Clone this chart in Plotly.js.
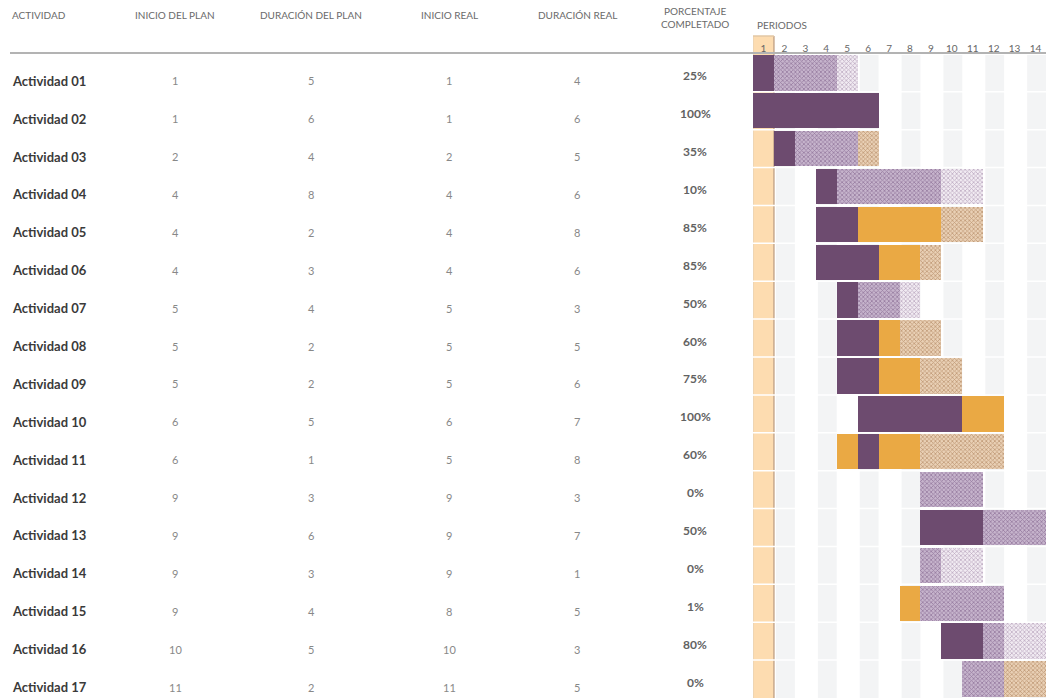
<!DOCTYPE html>
<html>
<head>
<meta charset="utf-8">
<script src="https://cdn.plot.ly/plotly-3.0.1.min.js"></script>
<style>
html,body{margin:0;padding:0;background:#fff;}
#chart{width:1053px;height:698px;}
</style>
</head>
<body>
<div id="chart"></div>
<script>
// ---------- DATA ----------
const activities = ['Actividad 01','Actividad 02','Actividad 03','Actividad 04','Actividad 05','Actividad 06','Actividad 07','Actividad 08','Actividad 09','Actividad 10','Actividad 11','Actividad 12','Actividad 13','Actividad 14','Actividad 15','Actividad 16','Actividad 17'];
const planStart   = [1,1,2,4,4,4,5,5,5,6,6,9,9,9,9,10,11];
const planDur     = [5,6,4,8,2,3,4,2,2,5,1,3,6,3,4,5,2];
const actualStart = [1,1,2,4,4,4,5,5,5,6,5,9,9,9,8,10,11];
const actualDur   = [4,6,5,6,8,6,3,5,6,7,8,3,7,1,5,3,5];
const pctComplete = [25,100,35,10,85,85,50,60,75,100,60,0,50,0,1,80,0];
const periods     = [1,2,3,4,5,6,7,8,9,10,11,12,13,14];
const currentPeriod = 1;
const columnHeaders = ['ACTIVIDAD','INICIO DEL PLAN','DURACIÓN DEL PLAN','INICIO REAL','DURACIÓN REAL','PORCENTAJE<br>COMPLETADO'];
const periodsTitle = 'PERIODOS';

// ---------- LAYOUT HELPERS ----------
const W = 1053, H = 698;
const plotLeft = 753, plotRight = 1046, plotTop = 55;
const px = v => v / W;
const py = v => 1 - v / H;
const nRows = activities.length;

// ---------- CATEGORISE PERIODS ----------
const cats = ['plan','actual','actualBeyond','complete','completeBeyond'];
const segs = {}; cats.forEach(c => segs[c] = {y:[], x:[], base:[]});
const maxP = periods[periods.length - 1] + 2;
for (let i = 0; i < nRows; i++) {
  const ps = planStart[i], pd = planDur[i], as = actualStart[i], ad = actualDur[i], pc = pctComplete[i] / 100;
  const lim = Math.floor(as + ad * pc + 1e-9);
  let prev = null, start = null;
  const flush = (endP) => { if (prev) { segs[prev].y.push(i + 1); segs[prev].x.push(endP - start); segs[prev].base.push(start - 0.5); } };
  for (let p = 1; p <= maxP; p++) {
    const inPlan = p >= ps && p < ps + pd;
    const inAct = p >= as && p < as + ad;
    const done = inAct && pc > 0 && (p < lim || p === as);
    let c = null;
    if (done && inPlan) c = 'complete';
    else if (done) c = 'completeBeyond';
    else if (inAct && inPlan) c = 'actual';
    else if (inAct) c = 'actualBeyond';
    else if (inPlan) c = 'plan';
    if (c !== prev) { flush(p); prev = c; start = p; }
  }
  flush(maxP + 1);
}

const styles = {
  plan:           {color:'#ece5ee', pattern:{shape:'x', fgcolor:'#bfaec4', bgcolor:'#f1ebf2', size:3, solidity:0.45}},
  actual:         {color:'#c2b0c9', pattern:{shape:'x', fgcolor:'#977c a0'.replace(' ',''), bgcolor:'#c6b4cc', size:3, solidity:0.45}},
  actualBeyond:   {color:'#e6cbad', pattern:{shape:'x', fgcolor:'#c09a78', bgcolor:'#e9d0b5', size:3, solidity:0.45}},
  complete:       {color:'#6d4b6f'},
  completeBeyond: {color:'#eaa944'}
};

const traces = cats.map(c => ({
  type:'bar', orientation:'h', name:c,
  y: segs[c].y, x: segs[c].x, base: segs[c].base,
  width: 0.935,
  marker: Object.assign({line:{width:0}}, styles[c]),
  hoverinfo:'skip', showlegend:false
}));

// ---------- SHAPES ----------
const shapes = [];
periods.forEach(p => {
  if (p % 2 === 0) shapes.push({type:'rect', layer:'below', xref:'x', yref:'paper', x0:p-0.4, x1:p+0.5, y0:0, y1:py(plotTop), fillcolor:'#f3f4f5', line:{width:0}});
});
shapes.push({type:'rect', layer:'below', xref:'x', yref:'paper', x0:currentPeriod-0.5, x1:currentPeriod+0.5, y0:0, y1:py(36), fillcolor:'#fddcb0', line:{width:0}});
shapes.push({type:'line', layer:'below', xref:'x', yref:'paper', x0:currentPeriod-0.5, x1:currentPeriod-0.5, y0:0, y1:py(36), line:{color:'#ead3b3', width:1.5}});
shapes.push({type:'line', layer:'below', xref:'x', yref:'paper', x0:currentPeriod+0.5, x1:currentPeriod+0.5, y0:0, y1:py(36), line:{color:'#c7a98c', width:1.5}});
shapes.push({type:'line', layer:'below', xref:'x', yref:'paper', x0:currentPeriod-0.5, x1:currentPeriod+0.5, y0:py(36), y1:py(36), line:{color:'#e2c7a4', width:1.5}});
for (let k = 1; k < nRows; k++) {
  shapes.push({type:'line', layer:'below', xref:'x', yref:'y', x0:0.5, x1:14.5, y0:k+0.5, y1:k+0.5, line:{color:'#ffffff', width:1.5}});
}
shapes.push({type:'line', xref:'paper', yref:'paper', x0:px(10), x1:px(1046), y0:py(53), y1:py(53), line:{color:'#b3b3b3', width:2}});

// ---------- ANNOTATIONS ----------
const ann = [];
const hdrFont = {family:'Lato, "Open Sans", sans-serif', size:10, color:'#6a6a6a'};
const colX = [10, 175, 311, 449, 577, 695];
ann.push({xref:'paper', yref:'paper', x:px(colX[0]), y:py(15), xanchor:'left', yanchor:'middle', text:columnHeaders[0], showarrow:false, font:hdrFont});
for (let c = 1; c <= 4; c++) {
  ann.push({xref:'paper', yref:'paper', x:px(colX[c]), y:py(15), xanchor:'center', yanchor:'middle', text:columnHeaders[c], showarrow:false, font:hdrFont});
}
ann.push({xref:'paper', yref:'paper', x:px(colX[5]), y:py(18), xanchor:'center', yanchor:'middle', text:columnHeaders[5], showarrow:false, font:hdrFont});
ann.push({xref:'paper', yref:'paper', x:px(755), y:py(25), xanchor:'left', yanchor:'middle', text:periodsTitle, showarrow:false, font:hdrFont});

const valFont = {family:'Lato, "Open Sans", sans-serif', size:11, color:'#888888'};
const cols = [planStart, planDur, actualStart, actualDur];
for (let i = 0; i < nRows; i++) {
  const r = i + 1;
  ann.push({xref:'paper', yref:'y', x:px(10), y:r, yshift:-8, xanchor:'left', yanchor:'middle', text:activities[i], showarrow:false, font:{family:'Lato, "Open Sans", sans-serif', size:13, color:'#3a3a3a', weight:'bold'}});
  cols.forEach((arr, c) => {
    ann.push({xref:'paper', yref:'y', x:px(colX[c+1]), y:r, yshift:-8, xanchor:'center', yanchor:'middle', text:String(arr[i]), showarrow:false, font:valFont});
  });
  ann.push({xref:'paper', yref:'y', x:px(colX[5]), y:r, yshift:-3, xanchor:'center', yanchor:'middle', text:pctComplete[i] + '%', showarrow:false, font:{family:'Lato, "Open Sans", sans-serif', size:12, color:'#626262', weight:'bold'}});
}

// ---------- LAYOUT ----------
const layout = {
  width: W, height: H,
  margin: {l:0, r:0, t:0, b:0},
  paper_bgcolor:'#ffffff', plot_bgcolor:'rgba(0,0,0,0)',
  barmode:'overlay', bargap:0,
  showlegend:false,
  xaxis: {
    domain:[px(plotLeft), px(plotRight)], range:[0.5, 14.5],
    side:'top', tickvals: periods, ticktext: periods.map(String),
    tickfont:{family:'Lato, "Open Sans", sans-serif', size:10, color:'#666666'},
    ticks:'', showgrid:false, zeroline:false, showline:false, fixedrange:true
  },
  yaxis: {
    domain:[0, py(plotTop)], range:[nRows + 0.5, 0.53],
    showticklabels:false, ticks:'', showgrid:false, zeroline:false, showline:false, fixedrange:true
  },
  shapes: shapes,
  annotations: ann
};

Plotly.newPlot('chart', traces, layout, {displayModeBar:false, staticPlot:true});
</script>
</body>
</html>
